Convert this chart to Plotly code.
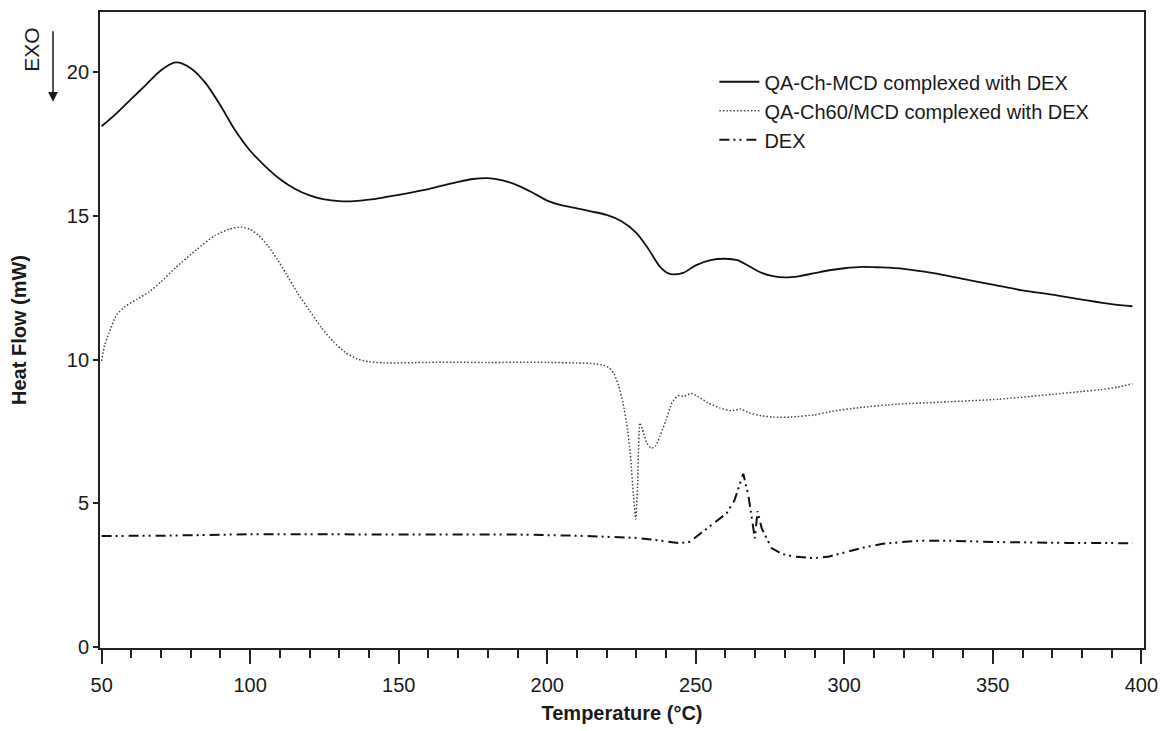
import plotly.graph_objects as go

# ---- data ----
temp_a = [50, 55, 60, 65, 70, 75, 80, 85, 90, 95, 100, 105, 110, 115, 120, 125, 130, 135, 140, 145,
          150, 160, 170, 175, 180, 185, 190, 195, 200, 205, 210, 215, 220, 225, 230, 234, 238, 241,
          243, 246, 250, 255, 260, 264, 268, 272, 276, 280, 285, 290, 295, 300, 306, 312, 320, 330,
          340, 350, 360, 370, 380, 390, 397]
heat_a = [18.1, 18.55, 19.05, 19.55, 20.05, 20.32, 20.12, 19.6, 18.82, 17.95, 17.25, 16.72, 16.27, 15.93,
          15.7, 15.56, 15.5, 15.5, 15.55, 15.63, 15.72, 15.92, 16.17, 16.27, 16.3, 16.22, 16.05, 15.8,
          15.52, 15.35, 15.25, 15.14, 15.02, 14.8, 14.4, 13.85, 13.22, 12.98, 12.96, 13.02, 13.27, 13.45,
          13.5, 13.45, 13.24, 13.02, 12.9, 12.85, 12.9, 13.0, 13.1, 13.17, 13.22, 13.2, 13.15, 13.0,
          12.8, 12.6, 12.4, 12.25, 12.08, 11.92, 11.85]

temp_b = [50, 51, 52.5, 55, 58, 62, 66, 70, 75, 82, 88, 93, 97, 100, 103, 106, 109, 112, 116, 120, 124,
          128, 132, 136, 140, 145, 160, 180, 200, 210, 216, 219, 221, 222.5, 224, 225.5, 227, 228,
          229, 229.8, 230.4, 231.2, 232, 233.5, 235, 236.5, 238, 240, 242, 244, 246, 248.5, 251, 254,
          258, 262, 265, 268, 272, 276, 282, 290, 296, 305, 318, 335, 352, 370, 380, 386, 392, 397]
heat_b = [9.95, 10.5, 10.92, 11.55, 11.85, 12.1, 12.35, 12.7, 13.2, 13.82, 14.3, 14.53, 14.6, 14.52, 14.3,
          13.95, 13.5, 13.0, 12.3, 11.7, 11.1, 10.62, 10.25, 10.02, 9.92, 9.88, 9.9, 9.9, 9.9, 9.88,
          9.85, 9.8, 9.7, 9.5, 9.1, 8.5, 7.6, 6.7, 5.3, 4.45, 5.6, 7.8, 7.6, 7.1, 6.92, 7.0, 7.35,
          7.9, 8.5, 8.74, 8.72, 8.82, 8.7, 8.5, 8.32, 8.22, 8.28, 8.15, 8.05, 8.0, 8.0, 8.08, 8.2,
          8.33, 8.45, 8.53, 8.62, 8.79, 8.89, 8.95, 9.04, 9.16]

temp_dex = [50, 70, 100, 130, 160, 190, 210, 220, 229, 235, 240, 244.7, 248, 252.4, 256, 260.4, 263,
            266, 267.7, 269, 269.9, 270.8, 272.2, 275.5, 279, 282.8, 289.5, 295, 301.8, 307, 313, 324,
            333, 352, 375, 397]
heat_dex = [3.87, 3.88, 3.93, 3.93, 3.92, 3.92, 3.88, 3.85, 3.81, 3.75, 3.68, 3.62, 3.67, 4.02, 4.3,
            4.66, 5.1, 6.03, 5.29, 4.3, 3.79, 4.73, 4.14, 3.45, 3.25, 3.16, 3.1, 3.16, 3.33, 3.48, 3.6,
            3.7, 3.71, 3.66, 3.63, 3.62]

names = ["QA-Ch-MCD complexed with DEX", "QA-Ch60/MCD complexed with DEX", "DEX"]
x_ticks = [50, 100, 150, 200, 250, 300, 350, 400]
y_ticks = [0, 5, 10, 15, 20]

FONT = "Liberation Sans, Arial, sans-serif"
INK = "#1a1a1a"

fig = go.Figure()
fig.add_trace(go.Scatter(x=temp_a, y=heat_a, mode="lines", name=names[0],
                         line=dict(color="#111111", width=1.8, shape="spline", smoothing=0.8)))
fig.add_trace(go.Scatter(x=temp_b, y=heat_b, mode="lines", name=names[1],
                         line=dict(color="#444444", width=1.5, dash="1.5px,2px",
                                   shape="spline", smoothing=0.5)))
fig.add_trace(go.Scatter(x=temp_dex, y=heat_dex, mode="lines", name=names[2],
                         line=dict(color="#111111", width=2, dash="10px,4px,2px,4px,2px,5px")))

fig.update_layout(
    width=1168, height=731,
    margin=dict(l=100, r=23, t=10, b=81),
    paper_bgcolor="white", plot_bgcolor="white",
    font=dict(family=FONT, size=20, color=INK),
    showlegend=True,
    legend=dict(x=0.5885, y=0.921, xanchor="left", yanchor="top", itemwidth=40,
                bgcolor="rgba(0,0,0,0)", font=dict(size=20, color=INK)),
    xaxis=dict(range=[49.45, 400.9], tickvals=x_ticks, ticks="outside", ticklen=14, tickwidth=1.5,
               tickcolor="#222", showline=True, linecolor="#222", linewidth=1.8, mirror=True,
               showgrid=False, zeroline=False, ticklabelstandoff=4,
               minor=dict(dtick=10, ticks="outside", ticklen=8, tickwidth=1.5, tickcolor="#222",
                          showgrid=False),
               tickfont=dict(size=20, color=INK),
               title=dict(text="<b>Temperature (°C)</b>", font=dict(size=20, color=INK), standoff=11)),
    yaxis=dict(range=[-0.02, 22.07], tickvals=y_ticks, ticks="outside", ticklen=5, tickwidth=1.5,
               tickcolor="#222", showline=True, linecolor="#222", linewidth=1.8, mirror=True,
               showgrid=False, zeroline=False, tickfont=dict(size=20, color=INK),
               title=dict(text="<b>Heat Flow (mW)</b>", font=dict(size=20, color=INK), standoff=35)),
)

# EXO label with downward arrow
fig.add_annotation(xref="paper", yref="paper", x=-0.0651, y=0.9406, text="EXO", textangle=-90,
                   xanchor="center", yanchor="middle",
                   showarrow=False, font=dict(size=21, color=INK))
fig.add_annotation(xref="paper", yref="paper", x=-0.045, y=0.859, text="", showarrow=True,
                   ax=0, ay=-72, arrowhead=2, arrowsize=1.3, arrowwidth=1.5, arrowcolor=INK)

fig.write_html("out.html")
